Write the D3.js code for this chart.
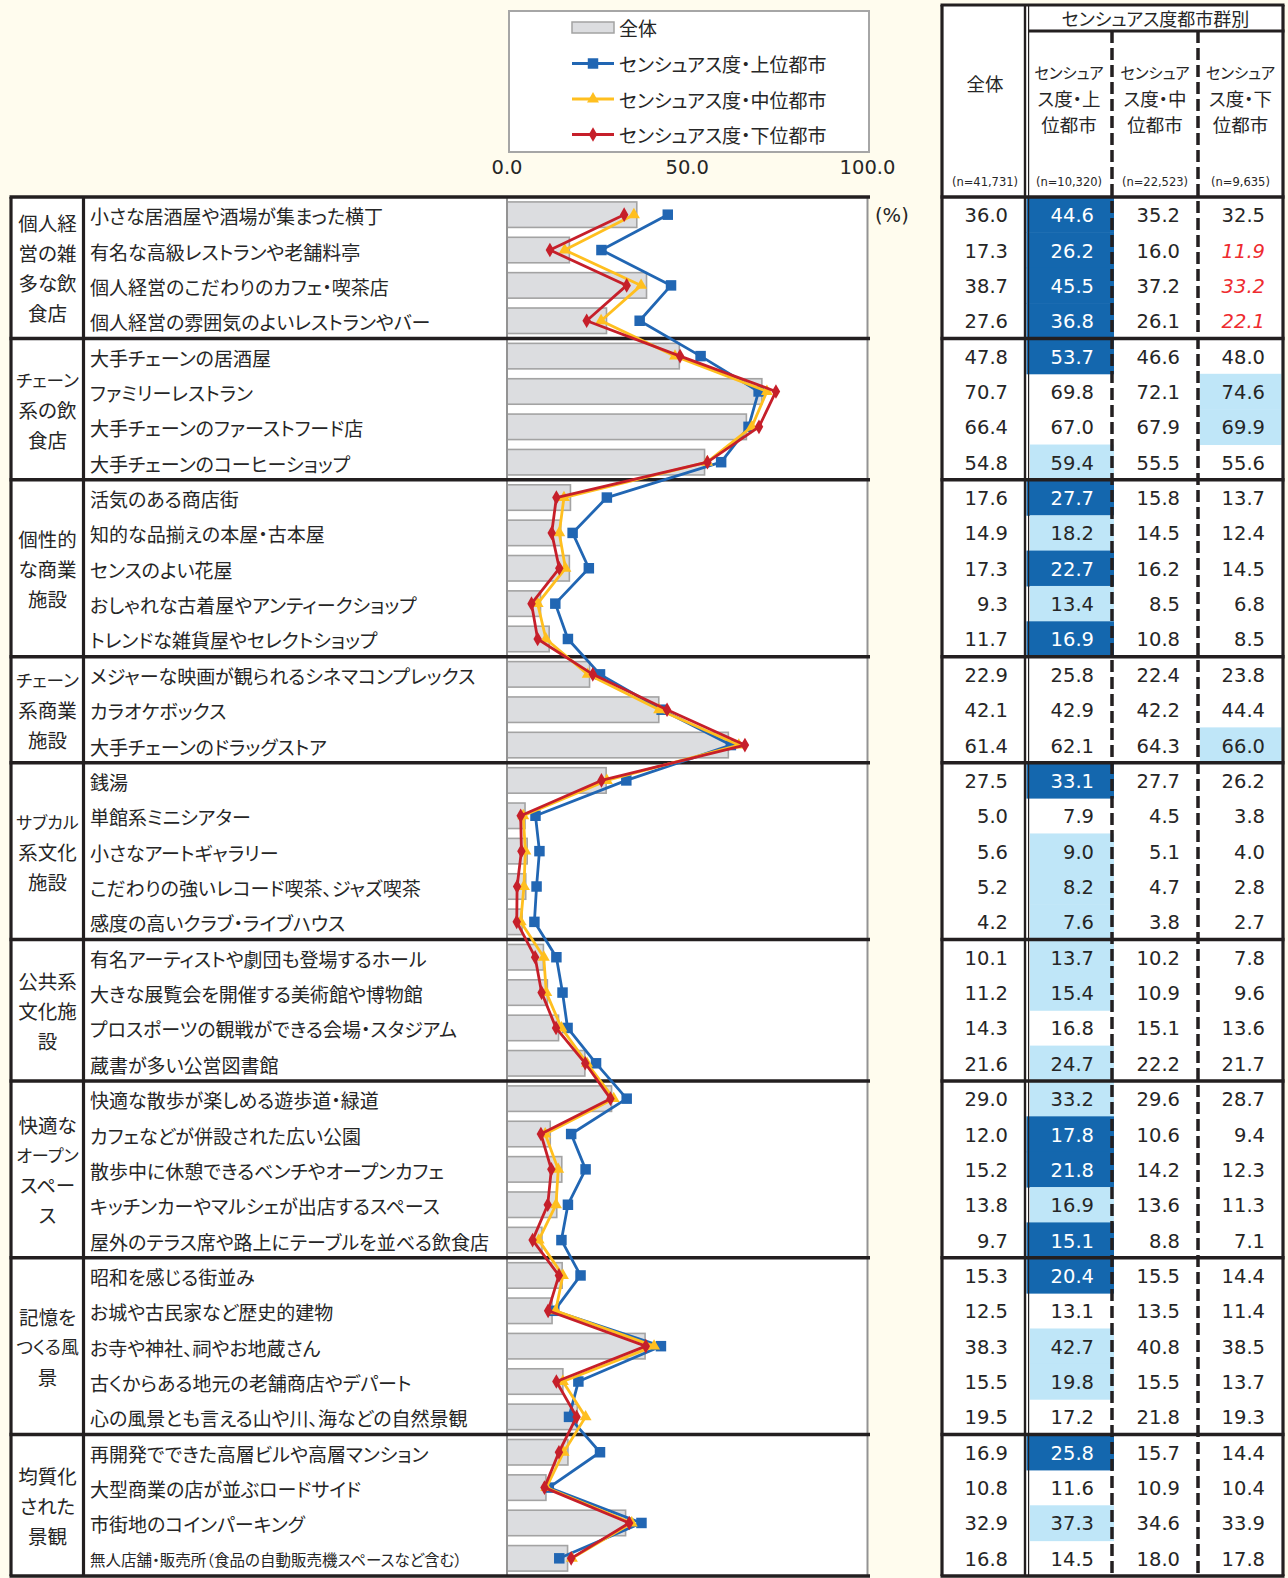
<!DOCTYPE html>
<html><head><meta charset="utf-8">
<script src="https://cdn.jsdelivr.net/npm/d3@7"></script>
<style>
body{margin:0;background:#fffcee;}
svg{display:block;}
.jp{font-family:"Noto Sans CJK JP","Noto Sans CJK SC",sans-serif;font-feature-settings:"palt";}
.num{font-family:"DejaVu Sans",sans-serif;}
</style></head><body>
<svg id="c" width="1288" height="1578"></svg>
<script>
const groupLabels = [
  ["個人経","営の雑","多な飲","食店"],
  ["チェーン","系の飲","食店"],
  ["個性的","な商業","施設"],
  ["チェーン","系商業","施設"],
  ["サブカル","系文化","施設"],
  ["公共系","文化施","設"],
  ["快適な","オープン","スペー","ス"],
  ["記憶を","つくる風","景"],
  ["均質化","された","景観"]
];
const groupSizes = [4,4,5,3,5,4,5,5,4];
const items = [
  "小さな居酒屋や酒場が集まった横丁","有名な高級レストランや老舗料亭","個人経営のこだわりのカフェ・喫茶店","個人経営の雰囲気のよいレストランやバー",
  "大手チェーンの居酒屋","ファミリーレストラン","大手チェーンのファーストフード店","大手チェーンのコーヒーショップ",
  "活気のある商店街","知的な品揃えの本屋・古本屋","センスのよい花屋","おしゃれな古着屋やアンティークショップ","トレンドな雑貨屋やセレクトショップ",
  "メジャーな映画が観られるシネマコンプレックス","カラオケボックス","大手チェーンのドラッグストア",
  "銭湯","単館系ミニシアター","小さなアートギャラリー","こだわりの強いレコード喫茶、ジャズ喫茶","感度の高いクラブ・ライブハウス",
  "有名アーティストや劇団も登場するホール","大きな展覧会を開催する美術館や博物館","プロスポーツの観戦ができる会場・スタジアム","蔵書が多い公営図書館",
  "快適な散歩が楽しめる遊歩道・緑道","カフェなどが併設された広い公園","散歩中に休憩できるベンチやオープンカフェ","キッチンカーやマルシェが出店するスペース","屋外のテラス席や路上にテーブルを並べる飲食店",
  "昭和を感じる街並み","お城や古民家など歴史的建物","お寺や神社、祠やお地蔵さん","古くからある地元の老舗商店やデパート","心の風景とも言える山や川、海などの自然景観",
  "再開発でできた高層ビルや高層マンション","大型商業の店が並ぶロードサイド","市街地のコインパーキング","無人店舗・販売所（食品の自動販売機スペースなど含む）"
];
const allValues = [36.0,17.3,38.7,27.6, 47.8,70.7,66.4,54.8, 17.6,14.9,17.3,9.3,11.7, 22.9,42.1,61.4, 27.5,5.0,5.6,5.2,4.2, 10.1,11.2,14.3,21.6, 29.0,12.0,15.2,13.8,9.7, 15.3,12.5,38.3,15.5,19.5, 16.9,10.8,32.9,16.8];
const upperValues = [44.6,26.2,45.5,36.8, 53.7,69.8,67.0,59.4, 27.7,18.2,22.7,13.4,16.9, 25.8,42.9,62.1, 33.1,7.9,9.0,8.2,7.6, 13.7,15.4,16.8,24.7, 33.2,17.8,21.8,16.9,15.1, 20.4,13.1,42.7,19.8,17.2, 25.8,11.6,37.3,14.5];
const middleValues = [35.2,16.0,37.2,26.1, 46.6,72.1,67.9,55.5, 15.8,14.5,16.2,8.5,10.8, 22.4,42.2,64.3, 27.7,4.5,5.1,4.7,3.8, 10.2,10.9,15.1,22.2, 29.6,10.6,14.2,13.6,8.8, 15.5,13.5,40.8,15.5,21.8, 15.7,10.9,34.6,18.0];
const lowerValues = [32.5,11.9,33.2,22.1, 48.0,74.6,69.9,55.6, 13.7,12.4,14.5,6.8,8.5, 23.8,44.4,66.0, 26.2,3.8,4.0,2.8,2.7, 7.8,9.6,13.6,21.7, 28.7,9.4,12.3,11.3,7.1, 14.4,11.4,38.5,13.7,19.3, 14.4,10.4,33.9,17.8];
// D = significantly higher (dark), L = higher (light), R = lower (red italic)
const upperMarks = ["D","D","D","D", "D","","","L", "D","L","D","L","D", "","","", "D","","L","L","L", "L","L","","L", "L","D","D","L","D", "D","","L","L","", "D","","L",""];
const middleMarks = Array(39).fill("");
const lowerMarks = ["","R","R","R", "","L","L","", "","","","","", "","","L", "","","","","", "","","","", "","","","","", "","","","","", "","","",""];
const tickValues = [0,50,100];
const seriesNames = ["全体","センシュアス度・上位都市","センシュアス度・中位都市","センシュアス度・下位都市"];
const sampleSizes = ["(n=41,731)","(n=10,320)","(n=22,523)","(n=9,635)"];
const headerGroup = "センシュアス度都市群別";
const colHeaders = [["全体"],["センシュア","ス度・上","位都市"],["センシュア","ス度・中","位都市"],["センシュア","ス度・下","位都市"]];

const svg = d3.select("#c");
const BLACK = "#231f20", TXT = "#262626";
const COLORS = {upper:"#2166b3", middle:"#ffbf1f", lower:"#c61f2a"};
const DARK = "#1467ae", LIGHT = "#bfe6f8", REDTXT = "#ee2b2f";

const top0 = 197, bottom0 = 1576;
const y = d3.scaleBand().domain(d3.range(items.length)).range([top0, bottom0]);
const x = d3.scaleLinear().domain([0,100]).range([507, 867.5]);
const cy = i => y(i) + y.bandwidth()/2;

// shrink font size until the text fits
function fitText(sel, maxW){
  sel.each(function(){
    const el = d3.select(this);
    let fs = parseFloat(el.attr("font-size"));
    let w = this.getBBox().width;
    let n = 0;
    while (w > maxW && n < 20) {
      fs = fs * maxW / w - 0.1;
      el.attr("font-size", fs);
      w = this.getBBox().width; n++;
    }
  });
}

// group boundaries
const bounds = [0]; groupSizes.forEach(s => bounds.push(bounds[bounds.length-1]+s));
const yb = k => k >= items.length ? bottom0 : y(k);

// white panels
svg.append("rect").attr("x",11).attr("y",top0).attr("width",857).attr("height",bottom0-top0).attr("fill","#fff");
svg.append("rect").attr("x",942).attr("y",5).attr("width",341).attr("height",bottom0-5).attr("fill","#fff");

// legend
const lg = svg.append("g");
lg.append("rect").attr("x",509).attr("y",11).attr("width",360).attr("height",141).attr("fill","#fff").attr("stroke","#a6a6a6").attr("stroke-width",2);
const legY = [27.5, 63.5, 99, 134.5];
lg.append("rect").attr("x",572).attr("y",legY[0]-5.5).attr("width",42).attr("height",11).attr("fill","#dcdde0").attr("stroke","#a3a3a3").attr("stroke-width",1.5);
const markerPath = {
  upper: d3.symbol(d3.symbolSquare, 110)(),
  middle: d3.symbol(d3.symbolTriangle, 62)(),
  lower: d3.symbol(d3.symbolDiamond, 62)()
};
["upper","middle","lower"].forEach((k,j) => {
  const yy = legY[j+1];
  lg.append("line").attr("x1",572).attr("x2",614).attr("y1",yy).attr("y2",yy).attr("stroke",COLORS[k]).attr("stroke-width",2.8);
  lg.append("path").attr("d",markerPath[k]).attr("transform",`translate(593,${yy})`).attr("fill",COLORS[k]);
});
seriesNames.forEach((n,j) => {
  lg.append("text").attr("class","jp").attr("x",619).attr("y",legY[j]).attr("dominant-baseline","central")
    .attr("font-size",19).attr("fill",TXT).text(n);
});

// ticks
svg.append("g").selectAll("text").data(tickValues).join("text").attr("class","num")
  .attr("x",d=>x(d)).attr("y",174).attr("text-anchor","middle").attr("font-size",19.5).attr("fill",TXT)
  .text(d=>d3.format(".1f")(d));
svg.append("text").attr("class","num").attr("x",875).attr("y",222).attr("font-size",19.5).attr("fill",TXT).text("(%)");

// bars
const bh = 25.5;
svg.append("g").selectAll("rect").data(allValues).join("rect")
  .attr("x",x(0)).attr("y",(d,i)=>cy(i)-bh/2).attr("width",d=>x(d)-x(0)).attr("height",bh)
  .attr("fill","#dcdde0").attr("stroke","#a3a3a3").attr("stroke-width",1.6);

// axis lines
[0,100].forEach(v => svg.append("line").attr("x1",x(v)).attr("x2",x(v)).attr("y1",top0).attr("y2",bottom0)
  .attr("stroke","#939393").attr("stroke-width",2));

// left table lines
const L = svg.append("g");
bounds.forEach(k => L.append("line").attr("x1",9.5).attr("x2",870).attr("y1",yb(k)).attr("y2",yb(k)).attr("stroke",BLACK).attr("stroke-width",3.5));
L.append("line").attr("x1",11).attr("x2",11).attr("y1",top0).attr("y2",bottom0).attr("stroke",BLACK).attr("stroke-width",3.2);
L.append("line").attr("x1",83.5).attr("x2",83.5).attr("y1",top0).attr("y2",bottom0).attr("stroke",BLACK).attr("stroke-width",3.2);

// lines & markers
const line = d3.line().x(d=>x(d.v)).y(d=>cy(d.i));
[["upper",upperValues],["middle",middleValues],["lower",lowerValues]].forEach(([k,vals]) => {
  const pts = vals.map((v,i)=>({v,i}));
  svg.append("path").datum(pts).attr("d",line).attr("fill","none").attr("stroke",COLORS[k]).attr("stroke-width",2.8).attr("stroke-linejoin","round");
  svg.append("g").selectAll("path").data(pts).join("path").attr("d",markerPath[k])
    .attr("transform",d=>`translate(${x(d.v)},${cy(d.i)})`).attr("fill",COLORS[k]);
});

// category labels
groupLabels.forEach((lines,g) => {
  const mid = (yb(bounds[g]) + yb(bounds[g+1]))/2;
  const lh = 30;
  lines.forEach((t,j) => {
    const tx = svg.append("text").attr("class","jp").attr("x",47.5).attr("y",mid + (j-(lines.length-1)/2)*lh)
      .attr("text-anchor","middle").attr("dominant-baseline","central").attr("font-size",19.5).attr("fill",TXT).text(t);
    fitText(tx, 63);
  });
});
// item labels
svg.append("g").selectAll("text").data(items).join("text").attr("class","jp")
  .attr("x",90).attr("y",(d,i)=>cy(i)+1).attr("dominant-baseline","central")
  .attr("font-size",(d,i)=>i===items.length-1?15.5:19).attr("fill",TXT).text(d=>d);

// right table
const colEdges = [942, 1026, 1112, 1198, 1283];
const R = svg.append("g");
const marksAll = [middleMarks.map(()=>""), upperMarks, middleMarks, lowerMarks];
const valsAll = [allValues, upperValues, middleValues, lowerValues];
[1,3].forEach(c => {
  marksAll[c].forEach((m,i) => {
    if (m==="D"||m==="L") {
      const x0 = c===1 ? (m==="D"?1026.5:1030) : 1200;
      const x1 = c===1 ? 1114 : 1281.5;
      R.append("rect").attr("x",x0).attr("y",y(i)).attr("width",x1-x0).attr("height",y.bandwidth()+0.5)
        .attr("fill",m==="D"?DARK:LIGHT);
    }
  });
});
valsAll.forEach((vals,c) => {
  R.append("g").selectAll("text").data(vals).join("text").attr("class","num")
    .attr("x",colEdges[c+1]-18).attr("y",(d,i)=>cy(i)+7.5).attr("text-anchor","end").attr("font-size",19.5)
    .attr("font-style",(d,i)=>marksAll[c][i]==="R"?"italic":"normal")
    .attr("fill",(d,i)=>marksAll[c][i]==="D"?"#fff":(marksAll[c][i]==="R"?REDTXT:TXT))
    .text(d=>d3.format(".1f")(d));
});
// headers
R.append("text").attr("class","jp").attr("x",(1028+1283)/2).attr("y",18).attr("text-anchor","middle").attr("dominant-baseline","central")
  .attr("font-size",18).attr("fill",TXT).text(headerGroup);
colHeaders.forEach((lines,c) => {
  const cx = c===0 ? (colEdges[0]+colEdges[1])/2 + 1 : (colEdges[c]+colEdges[c+1])/2;
  const ys = c===0 ? [83] : [72, 98, 124];
  lines.forEach((t,j) => {
    const tx = R.append("text").attr("class","jp").attr("x",cx).attr("y",ys[j]).attr("text-anchor","middle")
      .attr("dominant-baseline","central").attr("font-size",18.5).attr("fill",TXT).text(t);
    fitText(tx, 70);
  });
  R.append("text").attr("class","num").attr("x",cx).attr("y",182).attr("text-anchor","middle").attr("dominant-baseline","central")
    .attr("font-size",11.5).attr("fill",TXT).text(sampleSizes[c]);
});
// right table lines
bounds.forEach(k => R.append("line").attr("x1",940.5).attr("x2",1284.5).attr("y1",yb(k)).attr("y2",yb(k)).attr("stroke",BLACK).attr("stroke-width",3.5));
R.append("line").attr("x1",940.5).attr("x2",1284.5).attr("y1",5).attr("y2",5).attr("stroke",BLACK).attr("stroke-width",3.2);
R.append("line").attr("x1",1028).attr("x2",1284.5).attr("y1",31).attr("y2",31).attr("stroke",BLACK).attr("stroke-width",3.2);
R.append("line").attr("x1",942).attr("x2",942).attr("y1",5).attr("y2",bottom0).attr("stroke",BLACK).attr("stroke-width",3.2);
R.append("line").attr("x1",1283).attr("x2",1283).attr("y1",5).attr("y2",bottom0).attr("stroke",BLACK).attr("stroke-width",3.2);
R.append("line").attr("x1",1025).attr("x2",1025).attr("y1",5).attr("y2",bottom0).attr("stroke",BLACK).attr("stroke-width",2.4);
R.append("line").attr("x1",1028.6).attr("x2",1028.6).attr("y1",5).attr("y2",bottom0).attr("stroke",BLACK).attr("stroke-width",1.2);
[1112, 1198].forEach(xx => R.append("line").attr("x1",xx).attr("x2",xx).attr("y1",31).attr("y2",bottom0)
  .attr("stroke",BLACK).attr("stroke-width",3.5).attr("stroke-dasharray","12,5"));
</script>
</body></html>
